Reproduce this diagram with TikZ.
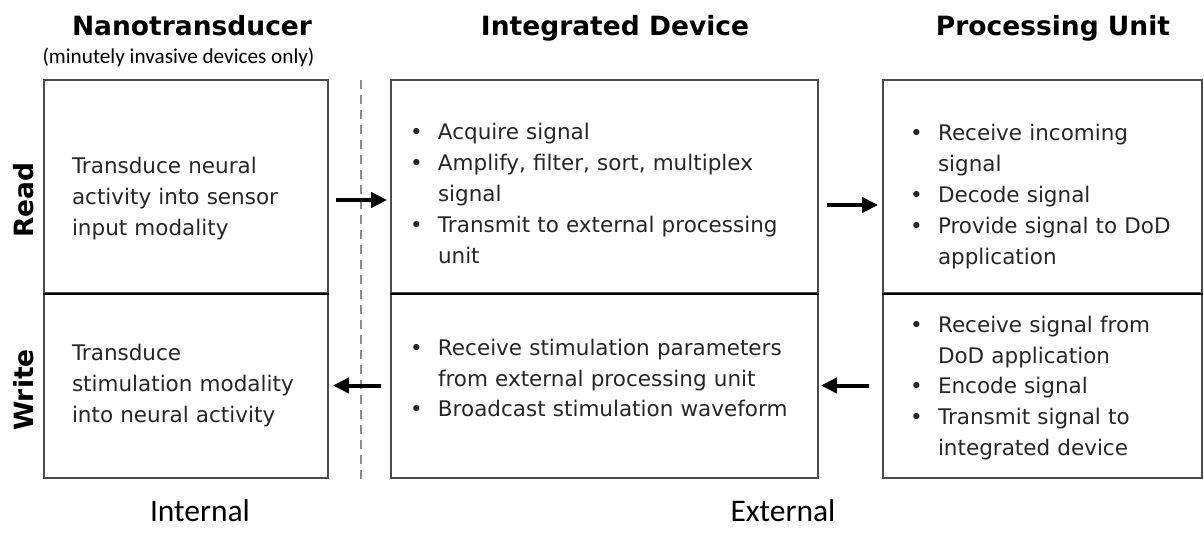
\documentclass[tikz,border=0pt]{standalone}
\usepackage{fontspec}
\setmainfont{DejaVu Sans}
\newfontfamily\calfont{Carlito}
\usetikzlibrary{arrows.meta}
\setlength\parindent{0pt}
\newcommand\bpt[1]{\hangindent=24pt\hangafter=1\noindent\makebox[24pt][l]{\hspace{-4pt}\textbullet}#1\par}
\newcommand\tailgap[1]{\par\vspace*{#1}}

\begin{document}
\begin{tikzpicture}[x=1pt,y=-1pt,
  cell/.style={draw=black!70, line width=1.8pt, rectangle, inner sep=0pt, align=left, text=black!85, font=\fontsize{21.5}{30.8}\selectfont},
  head/.style={font=\bfseries\fontsize{26.5}{30}\selectfont, anchor=base},
  side/.style={font=\bfseries\fontsize{26.5}{30}\selectfont, rotate=90},
  foot/.style={font=\calfont\fontsize{31.5}{34}\selectfont, anchor=base},
  arr/.style={line width=4pt, -{Triangle[length=16pt,width=15pt]}}]
\useasboundingbox (0,0) rectangle (1204,537);

% column titles
\node[head] (tnano) at (192,36) {Nanotransducer};
\node[font=\calfont\fontsize{21.2}{24}\selectfont, anchor=base] (tsub) at (178.5,64) {(minutely invasive devices only)};
\node[head] (tdev) at (615,36) {Integrated Device};
\node[head] (tproc) at (1053,36) {Processing Unit};

\node[side] (lread) at (24,200) {Read};
\node[side] (lwrite) at (24,390) {Write};

% nanotransducer
\node[cell, minimum width=284pt, minimum height=213pt, text width=228pt] (nanoR) at (186,186.5) {Transduce neural\\activity into sensor\\input modality\tailgap{-24pt}};
\node[cell, minimum width=284pt, minimum height=185pt, text width=228pt] (nanoW) at (186,385.5) {Transduce\\stimulation modality\\into neural activity\tailgap{0pt}};

% integrated device
\node[cell, minimum width=427pt, minimum height=213pt, text width=381pt] (devR) at (604.5,186.5) {\bpt{Acquire signal}\bpt{Amplify, filter, sort, multiplex\newline signal}\bpt{Transmit to external processing\newline unit}\tailgap{-14pt}};
\node[cell, minimum width=427pt, minimum height=185pt, text width=381pt] (devW) at (604.5,385.5) {\bpt{Receive stimulation parameters\newline from external processing unit}\bpt{Broadcast stimulation waveform}\tailgap{15pt}};

% processing unit
\node[cell, minimum width=319pt, minimum height=213pt, text width=257pt] (procR) at (1042.5,186.5) {\bpt{Receive incoming\newline signal}\bpt{Decode signal}\bpt{Provide signal to DoD\newline application}\tailgap{-20pt}};
\node[cell, minimum width=319pt, minimum height=185pt, text width=257pt] (procW) at (1042.5,385.5) {\bpt{Receive signal from\newline DoD application}\bpt{Encode signal}\bpt{Transmit signal to\newline integrated device}\tailgap{-5pt}};

\draw[line width=2.6pt] (nanoR.south west) -- (nanoR.south east);
\draw[line width=2.6pt] (devR.south west) -- (devR.south east);
\draw[line width=2.6pt] (procR.south west) -- (procR.south east);

% internal / external split
\coordinate (dtop) at (361,80);
\coordinate (dbot) at (361,480);
\draw[black!45, line width=1.2pt, dash pattern=on 9pt off 6pt] (dtop) -- (dbot);

\draw[arr, shorten <=7pt, shorten >=3pt] ([yshift=-13.5pt]nanoR.east) -- ([yshift=-13.5pt]devR.west);
\draw[arr, shorten <=8pt, shorten >=4pt] ([yshift=-18.5pt]devR.east) -- ([yshift=-18.5pt]procR.west);
\draw[arr, shorten <=13pt, shorten >=2pt] (procW.west) -- (devW.east);
\draw[arr, shorten <=9pt, shorten >=4pt] (devW.west) -- (nanoW.east);

\node[foot] (linternal) at (200,521) {Internal};
\node[foot] (lexternal) at (783,521) {External};
\end{tikzpicture}
\end{document}
